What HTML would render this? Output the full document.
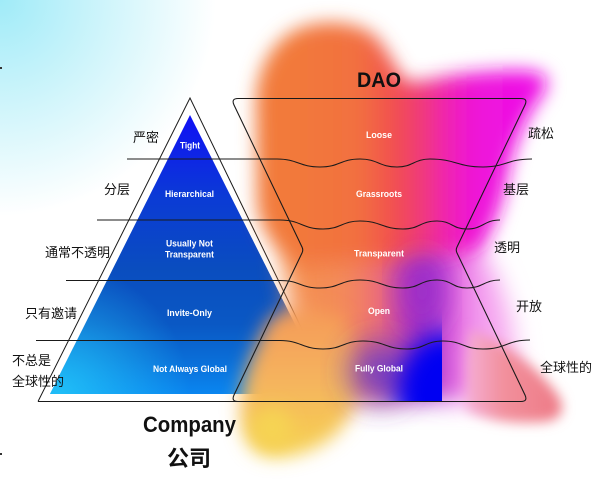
<!DOCTYPE html>
<html>
<head>
<meta charset="utf-8">
<style>
html,body{margin:0;padding:0;width:600px;height:479px;overflow:hidden;background:#fff}
svg{display:block}
.w{font-family:"Liberation Sans",sans-serif;font-weight:bold;font-size:9px;fill:#fff;text-anchor:middle}
.c{font-family:"Liberation Sans","Noto Sans CJK SC",sans-serif;font-size:13px;fill:#111}
</style>
</head>
<body>
<svg width="600" height="479" viewBox="0 0 600 479" xmlns="http://www.w3.org/2000/svg">
<defs>
  <radialGradient id="bg" cx="0" cy="0" r="270" gradientUnits="userSpaceOnUse">
    <stop offset="0" stop-color="#a0ebf8"/>
    <stop offset="0.4" stop-color="#d0f5fb"/>
    <stop offset="0.8" stop-color="#ffffff"/>
  </radialGradient>
  <linearGradient id="pyr" x1="0" y1="115" x2="0" y2="394" gradientUnits="userSpaceOnUse">
    <stop offset="0" stop-color="#1010f5"/>
    <stop offset="0.3" stop-color="#0b3bd5"/>
    <stop offset="0.55" stop-color="#0a4dbf"/>
    <stop offset="0.75" stop-color="#0a58c4"/>
    <stop offset="0.88" stop-color="#0a6ed8"/>
    <stop offset="1" stop-color="#0a86f0"/>
  </linearGradient>
  <radialGradient id="cy" cx="60" cy="394" r="130" gradientUnits="userSpaceOnUse">
    <stop offset="0" stop-color="#22c4f8" stop-opacity="0.9"/>
    <stop offset="1" stop-color="#22c4f8" stop-opacity="0"/>
  </radialGradient>
  <linearGradient id="gU" x1="290" y1="0" x2="520" y2="0" gradientUnits="userSpaceOnUse">
    <stop offset="0" stop-color="#f27a3a"/>
    <stop offset="0.3" stop-color="#f27040"/>
    <stop offset="0.45" stop-color="#f2504e"/>
    <stop offset="0.57" stop-color="#f03a78"/>
    <stop offset="0.68" stop-color="#f024b0"/>
    <stop offset="0.8" stop-color="#ee14d8"/>
    <stop offset="1" stop-color="#ee10e4"/>
  </linearGradient>
  <linearGradient id="gL" x1="290" y1="0" x2="520" y2="0" gradientUnits="userSpaceOnUse">
    <stop offset="0" stop-color="#f4904e"/>
    <stop offset="0.25" stop-color="#f38a5a"/>
    <stop offset="0.4" stop-color="#ee6a78"/>
    <stop offset="0.52" stop-color="#b634b8"/>
    <stop offset="0.6" stop-color="#9030c8"/>
    <stop offset="0.7" stop-color="#e058dc"/>
    <stop offset="0.82" stop-color="#f49ef0"/>
    <stop offset="1" stop-color="#f8b8f0"/>
  </linearGradient>
  <linearGradient id="gP" x1="0" y1="310" x2="0" y2="455" gradientUnits="userSpaceOnUse">
    <stop offset="0" stop-color="#f59a58"/>
    <stop offset="0.5" stop-color="#f5b45e"/>
    <stop offset="1" stop-color="#f6d250"/>
  </linearGradient>
  <linearGradient id="gC" x1="465" y1="0" x2="560" y2="0" gradientUnits="userSpaceOnUse">
    <stop offset="0" stop-color="#f5b0d8"/>
    <stop offset="0.4" stop-color="#f2909c"/>
    <stop offset="1" stop-color="#ee7a86"/>
  </linearGradient>
  <filter id="b6" x="-50%" y="-50%" width="200%" height="200%"><feGaussianBlur stdDeviation="6"/></filter>
  <filter id="b9" x="-50%" y="-50%" width="200%" height="200%"><feGaussianBlur stdDeviation="9"/></filter>
  <filter id="b12" x="-50%" y="-50%" width="200%" height="200%"><feGaussianBlur stdDeviation="12"/></filter>
  <filter id="b16" x="-50%" y="-50%" width="200%" height="200%"><feGaussianBlur stdDeviation="16"/></filter>
  <clipPath id="cb"><rect x="320" y="290" width="122" height="111.5"/></clipPath>
</defs>

<!-- background -->
<rect width="600" height="479" fill="#fff"/>
<rect width="600" height="479" fill="url(#bg)"/>
<rect x="0" y="67" width="2" height="2" fill="#333"/>
<rect x="0" y="453" width="2" height="2" fill="#333"/>

<!-- pyramid -->
<polygon points="190,115 50,394 330,394" fill="url(#pyr)"/>
<polygon points="190,115 50,394 330,394" fill="url(#cy)"/>
<polyline points="38,401.5 190,98 337,401.5" fill="none" stroke="#1a1a1a" stroke-width="1"/>

<!-- gradient blob -->
<g>
  <!-- lower body -->
  <path filter="url(#b12)" fill="url(#gL)" d="M284,245 L472,240 C488,255 502,282 512,322 L522,402 L340,400 C312,382 296,332 290,302 C286,286 284,268 284,245 Z"/>
  <!-- upper body -->
  <path filter="url(#b9)" fill="url(#gU)" d="M256,110 C254,75 270,40 300,28 C325,18 358,22 375,36 C388,50 395,68 405,80 C420,84 432,78 460,74 C495,70 530,68 542,74 C552,80 545,92 537,102 C522,125 512,150 506,185 C500,212 492,232 480,250 C440,262 360,262 300,268 C285,258 262,240 257,205 Z"/>
  <!-- purple core -->
  <ellipse filter="url(#b16)" cx="422" cy="292" rx="20" ry="38" fill="#9a2ccc" opacity="0.85"/>
  <!-- peach / yellow lobe -->
  <path filter="url(#b9)" fill="url(#gP)" d="M270,318 C290,305 330,305 345,322 C358,350 362,380 355,402 C345,440 305,458 272,457 C246,455 236,425 242,392 C246,365 258,340 270,318 Z"/>
  <!-- coral lobe -->
  <path filter="url(#b6)" fill="url(#gC)" d="M470,330 C505,342 538,368 557,394 C567,409 562,421 541,422 C510,424 485,420 466,410 L466,360 Z"/>
  <!-- purple bridge to blue -->
  <ellipse filter="url(#b16)" cx="380" cy="372" rx="30" ry="30" fill="#6a3ac8" opacity="0.9"/>
  <!-- blue -->
  <g clip-path="url(#cb)">
    <ellipse filter="url(#b12)" cx="448" cy="398" rx="52" ry="66" fill="#0000f2"/>
  </g>
  <!-- yellow -->
  <ellipse filter="url(#b9)" cx="272" cy="428" rx="20" ry="20" fill="#f6d452"/>
</g>

<!-- DAO hourglass -->
<path fill="none" stroke="#1a1a1a" stroke-width="1.1" d="M238,98.5 L521,98.5 Q528,98.5 525,105 L457,247 Q455.5,250 457,253 L525,395 Q528,401.5 521,401.5 L238,401.5 Q231,401.5 234,395 L302,253 Q303.5,250 302,247 L234,105 Q231,98.5 238,98.5 Z"/>
<line x1="38" y1="401.5" x2="240" y2="401.5" stroke="#1a1a1a" stroke-width="1"/>

<!-- divider lines -->
<g fill="none" stroke="#1a1a1a" stroke-width="1">
  <path d="M127,159 L277,159 C298,159 299,167 320,167 C340,167 340,159 360,159 C378,159 379,167 397,167 C413,167 414,159 430,159 C456,159 457,167 483,167 C506,167 507,159 532,159"/>
  <path d="M97,220 L280,220 C301,220 302,229 323,229 C341,229 342,221 360,221 C381,221 382,229 403,229 C420,229 420,221 437,221 C452,221 452,229 467,229 C483,229 484,220 500,220"/>
  <path d="M66,280.5 L280,280.5 C300,280.5 300,288 320,288 C340,288 340,280 360,280 C381,280 382,288 403,288 C420,288 420,280 437,280 C452,280 452,288 467,288 C483,288 484,280 500,280"/>
  <path d="M36,340.5 L280,340.5 C301,340.5 302,349 323,349 C343,349 343,341 363,341 C385,341 385,349 407,349 C425,349 425,341 443,341 C463,341 463,349 483,349 C506,349 507,340 530,340"/>
</g>

<!-- pyramid labels -->
<text class="w" x="190" y="148.5" textLength="20" lengthAdjust="spacingAndGlyphs">Tight</text>
<text class="w" x="189.5" y="197" textLength="49" lengthAdjust="spacingAndGlyphs">Hierarchical</text>
<text class="w" x="189.5" y="246.5" textLength="47" lengthAdjust="spacingAndGlyphs">Usually Not</text>
<text class="w" x="189.5" y="257.5" textLength="49" lengthAdjust="spacingAndGlyphs">Transparent</text>
<text class="w" x="189.5" y="316" textLength="45" lengthAdjust="spacingAndGlyphs">Invite-Only</text>
<text class="w" x="190" y="372" textLength="74" lengthAdjust="spacingAndGlyphs">Not Always Global</text>

<!-- DAO labels -->
<text class="w" x="379" y="138" textLength="26" lengthAdjust="spacingAndGlyphs">Loose</text>
<text class="w" x="379" y="197" textLength="46" lengthAdjust="spacingAndGlyphs">Grassroots</text>
<text class="w" x="379" y="256.5" textLength="50" lengthAdjust="spacingAndGlyphs">Transparent</text>
<text class="w" x="379" y="314" textLength="22" lengthAdjust="spacingAndGlyphs">Open</text>
<text class="w" x="379" y="371.5" textLength="48" lengthAdjust="spacingAndGlyphs">Fully Global</text>

<!-- titles -->
<text x="379" y="87" font-family="Liberation Sans, sans-serif" font-weight="bold" font-size="21" fill="#111" text-anchor="middle" textLength="44" lengthAdjust="spacingAndGlyphs">DAO</text>
<text x="189.5" y="432" font-family="Liberation Sans, sans-serif" font-weight="bold" font-size="22" fill="#111" text-anchor="middle" textLength="93" lengthAdjust="spacingAndGlyphs">Company</text>
<text x="189" y="466" font-family="Liberation Sans, Noto Sans CJK SC, sans-serif" font-weight="bold" font-size="22" fill="#111" text-anchor="middle">公司</text>

<!-- left CJK labels -->
<text class="c" x="133" y="142">严密</text>
<text class="c" x="104" y="194">分层</text>
<text class="c" x="45" y="257">通常不透明</text>
<text class="c" x="25" y="318">只有邀请</text>
<text class="c" x="12" y="365">不总是</text>
<text class="c" x="12" y="386">全球性的</text>

<!-- right CJK labels -->
<text class="c" x="528" y="138">疏松</text>
<text class="c" x="503" y="194">基层</text>
<text class="c" x="494" y="252">透明</text>
<text class="c" x="516" y="311">开放</text>
<text class="c" x="540" y="372">全球性的</text>
</svg>
</body>
</html>
